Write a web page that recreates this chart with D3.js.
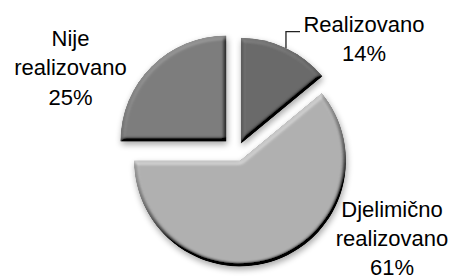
<!DOCTYPE html>
<html>
<head>
<meta charset="utf-8">
<script src="https://cdn.jsdelivr.net/npm/d3@7"></script>
<style>
  body { margin: 0; background: #fff; }
  text { font-family: "Liberation Sans", Arial, sans-serif; font-size: 22px; fill: #000; }
</style>
</head>
<body>
<script>
// data
var categories = ["Realizovano", "Djelimično realizovano", "Nije realizovano"];
var values = [14, 61, 25];
var nameLines = [["Realizovano"], ["Djelimično", "realizovano"], ["Nije", "realizovano"]];

var width = 453, height = 279;
var cx = 237, cy = 152, radius = 106;
var colors = ["#6a6a6a", "#b0b0b0", "#7d7d7d"];
var explode = [9, 9, 15];
// label block: centre x, first baseline y
var labelAt = [[364, 31.7], [392, 216.7], [70.5, 46]];
var lineH = 29.3;

var svg = d3.select("body").append("svg")
    .attr("width", width)
    .attr("height", height);

var defs = svg.append("defs");
var f = defs.append("filter").attr("id", "bevel")
    .attr("x", "-20%").attr("y", "-20%").attr("width", "140%").attr("height", "140%");
f.append("feGaussianBlur").attr("in", "SourceAlpha").attr("stdDeviation", 2).attr("result", "blur");
f.append("feDiffuseLighting").attr("in", "blur").attr("surfaceScale", 6)
    .attr("diffuseConstant", 1).attr("lighting-color", "#fff").attr("result", "light")
  .append("feDistantLight").attr("azimuth", 250).attr("elevation", 45);
f.append("feComposite").attr("in", "SourceGraphic").attr("in2", "light")
    .attr("operator", "arithmetic").attr("k1", 1.414).attr("k2", 0).attr("k3", 0).attr("k4", 0)
    .attr("result", "lit");
f.append("feComposite").attr("in", "lit").attr("in2", "SourceAlpha").attr("operator", "in").attr("result", "litIn");
f.append("feGaussianBlur").attr("in", "SourceAlpha").attr("stdDeviation", 3).attr("result", "sblur");
f.append("feOffset").attr("in", "sblur").attr("dx", 1).attr("dy", 3).attr("result", "soff");
f.append("feComponentTransfer").attr("in", "soff").attr("result", "shadow")
  .append("feFuncA").attr("type", "linear").attr("slope", 0.35);
var m = f.append("feMerge");
m.append("feMergeNode").attr("in", "shadow");
m.append("feMergeNode").attr("in", "litIn");

var pie = d3.pie().sort(null).value(function(d) { return d; });
var arc = d3.arc().innerRadius(0).outerRadius(radius);
var arcs = pie(values);

var g = svg.append("g").attr("transform", "translate(" + cx + "," + cy + ")");

g.selectAll("path.slice")
    .data(arcs)
  .enter().append("path")
    .attr("class", "slice")
    .attr("d", arc)
    .attr("fill", function(d, i) { return colors[i]; })
    .attr("filter", "url(#bevel)")
    .attr("transform", function(d, i) {
        var a = (d.startAngle + d.endAngle) / 2;
        return "translate(" + (Math.sin(a) * explode[i]) + "," + (-Math.cos(a) * explode[i]) + ")";
    });

// leader line for the first slice
var a0 = (arcs[0].startAngle + arcs[0].endAngle) / 2;
var px = cx + Math.sin(a0) * (radius + explode[0]);
var py = cy - Math.cos(a0) * (radius + explode[0]);
svg.append("path")
    .attr("d", "M" + px + "," + py + "V" + labelAt[0][1] + "H" + (labelAt[0][0] - 64))
    .attr("fill", "none")
    .attr("stroke", "#222")
    .attr("stroke-width", 1.3);

var labels = svg.selectAll("text.lab")
    .data(arcs)
  .enter().append("text")
    .attr("class", "lab")
    .attr("text-anchor", "middle");

labels.each(function(d, i) {
    var lines = nameLines[i].concat([values[i] + "%"]);
    var t = d3.select(this);
    lines.forEach(function(s, k) {
        t.append("tspan")
            .attr("x", labelAt[i][0])
            .attr("y", labelAt[i][1] + k * lineH)
            .text(s);
    });
});
</script>
</body>
</html>
